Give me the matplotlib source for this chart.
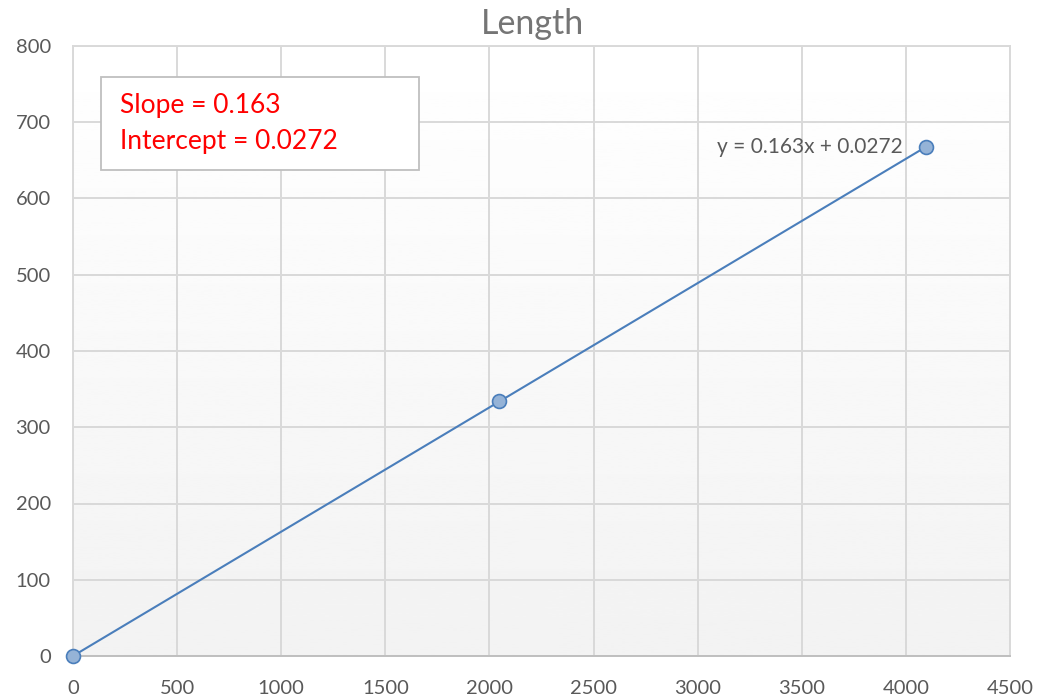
import numpy as np
import matplotlib.pyplot as plt
from matplotlib.patches import Rectangle

x_vals = [0, 2048, 4096]
y_vals = [0, 334, 668]
slope = 0.163
intercept = 0.0272
x_ticks = [0, 500, 1000, 1500, 2000, 2500, 3000, 3500, 4000, 4500]
y_ticks = [0, 100, 200, 300, 400, 500, 600, 700, 800]

plt.rcParams['font.family'] = ['Lato', 'DejaVu Sans']

W, H = 1040, 700
fig = plt.figure(figsize=(10.4, 7), dpi=100)
ax = fig.add_axes([73 / W, 44 / H, 937 / W, 610 / H])
ax.set_xlim(0, 4500)
ax.set_ylim(0, 800)

# light vertical gradient behind the plot area
grad = np.linspace(0.95, 1.0, 256).reshape(-1, 1)
ax.imshow(grad, extent=[0, 1, 0, 1], transform=ax.transAxes, cmap='gray',
          vmin=0, vmax=1, aspect='auto', origin='lower', zorder=0)

ax.set_xticks(x_ticks)
ax.set_yticks(y_ticks)
ax.grid(True, color='#d9d9d9', linewidth=1.4, zorder=1)
ax.tick_params(length=0, labelsize=14.5, labelcolor='#595959')
ax.tick_params(axis='x', pad=17)
ax.tick_params(axis='y', pad=16)
for s in ax.spines.values():
    s.set_color('#d9d9d9')
    s.set_linewidth(1.4)
ax.spines['bottom'].set_color('#bfbfbf')

fit_x = np.array([x_vals[0], x_vals[-1]])
ax.plot(fit_x, slope * fit_x + intercept, color='#4a7ebb', linewidth=1.5, zorder=3)
ax.plot(x_vals, y_vals, linestyle='none', marker='o', markersize=10,
        markerfacecolor='#95b3d7', markeredgecolor='#4a7ebb', markeredgewidth=1.2,
        zorder=4, clip_on=False)

ax.text(3985, 667, f'y = {slope}x + {intercept}', fontsize=15, color='#595959',
        ha='right', va='center', zorder=5)

# stats box
fig.patches.append(Rectangle((101 / W, 1 - 170 / H), 318 / W, 93 / H, transform=fig.transFigure,
                             facecolor='white', edgecolor='#bfbfbf', linewidth=1.3, zorder=6))
fig.text(120 / W, 1 - 106 / H, f'Slope = {slope}', fontsize=19, color='#ff0000',
         ha='left', va='center', zorder=7)
fig.text(120 / W, 1 - 141 / H, f'Intercept = {intercept}', fontsize=19, color='#ff0000',
         ha='left', va='center', zorder=7)

fig.text(533 / W, 1 - 24 / H, 'Length', fontsize=24.5, color='#757575', ha='center', va='center')

fig.savefig('out.png', dpi=100)
